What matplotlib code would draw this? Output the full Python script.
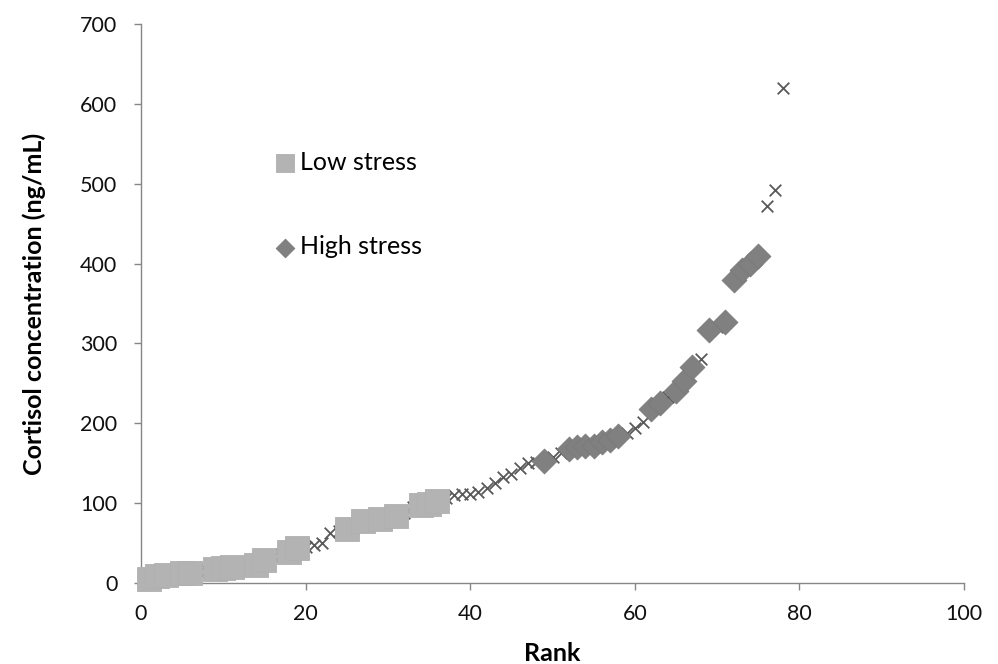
"""
Cortisol concentration by rank: all samples (x), low- and high-stress groups.
"""

import matplotlib

matplotlib.use("Agg")
import matplotlib.pyplot as plt

plt.rcParams["font.family"] = ["Lato", "DejaVu Sans"]

# все образцы, ранг 1..78
rank_all = list(range(1, 79))
cortisol_all = [
    5, 9, 10, 11, 12, 13, 14, 16, 18, 19,
    20, 21, 22, 23, 29, 32, 36, 39, 44, 45,
    48, 50, 62, 65, 68, 72, 77, 79, 80, 82,
    84, 88, 95, 98, 99, 103, 107, 110, 111, 112,
    114, 119, 125, 133, 137, 144, 150, 152, 153, 158,
    163, 168, 170, 171, 172, 176, 179, 184, 188, 194,
    201, 218, 226, 233, 240, 253, 270, 281, 317, 320,
    327, 380, 392, 400, 409, 472, 492, 620,
]

# группы по уровню стресса (подмножества рангов)
rank_low = [1, 2, 3, 5, 6, 9, 10, 11, 14, 15, 18, 19, 25, 27, 29, 31, 34, 35, 36]
rank_high = [49, 52, 53, 54, 55, 56, 57, 58, 62, 63, 65, 66, 67, 69, 71, 72, 73, 74, 75]

cortisol_low = [cortisol_all[r - 1] for r in rank_low]
cortisol_high = [cortisol_all[r - 1] for r in rank_high]

fig = plt.figure(figsize=(9.98, 6.64), dpi=100)
ax = fig.add_axes([0.1413, 0.122, 0.8247, 0.8419])

ax.scatter(rank_all, cortisol_all, marker="x", s=70, color="#595959",
           linewidths=1.3, zorder=2, clip_on=False)
low = ax.scatter(rank_low, cortisol_low, marker="s", s=280, color="#b3b3b3",
                 edgecolors="#b0b0b0", linewidths=0.6, zorder=3, clip_on=False,
                 label="Low stress")
high = ax.scatter(rank_high, cortisol_high, marker="D", s=160, color="#808080",
                  edgecolors="#7a7a7a", linewidths=0.6, zorder=4, clip_on=False,
                  label="High stress")

ax.set_xlim(0, 100)
ax.set_ylim(0, 700)
ax.set_xticks(range(0, 101, 20))
ax.set_yticks(range(0, 701, 100))

for side in ("top", "right"):
    ax.spines[side].set_visible(False)
for side in ("left", "bottom"):
    ax.spines[side].set_color("#868686")
    ax.spines[side].set_linewidth(1.0)
ax.tick_params(direction="out", length=5, width=1.0, color="#868686",
               labelsize=15.5, labelcolor="#111111")
ax.tick_params(axis="y", pad=12)
ax.tick_params(axis="x", pad=10)

ax.set_xlabel("Rank", fontsize=18, fontweight="bold")
ax.set_ylabel("Cortisol concentration (ng/mL)", fontsize=18, fontweight="bold")
ax.xaxis.set_label_coords(0.5, -0.105)
ax.yaxis.set_label_coords(-0.115, 0.5)

ax.legend(handles=[low, high], loc="center left", bbox_to_anchor=(0.133, 0.677),
          frameon=False, fontsize=18, labelspacing=2.45, markerscale=0.75,
          handletextpad=0.1, handlelength=1.0)

fig.savefig("out.png", dpi=100)
